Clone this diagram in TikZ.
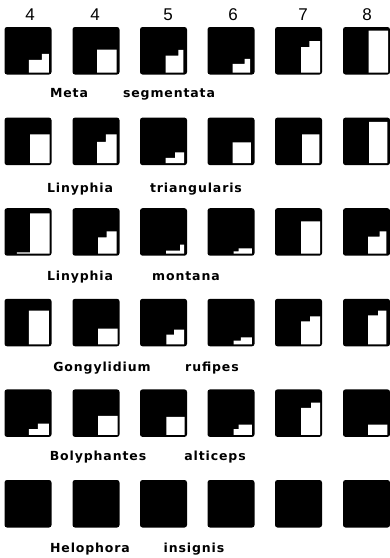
\documentclass[tikz,border=0pt]{standalone}
\usepackage{fontspec}
\newfontfamily\handfont[LetterSpace=7]{DejaVu Sans}
\newfontfamily\digitfont{Liberation Sans}
\tikzset{
  word/.style={anchor=base, inner sep=0pt, font=\handfont\bfseries\fontsize{12.5}{12.5}\selectfont},
  digit/.style={anchor=base, inner sep=0pt, font=\digitfont\fontsize{17}{17}\selectfont},
  box/.style={fill=black, rounded corners=2.5pt}
}
\newcommand\sqblk[2]{\fill[box] (#1,#2) rectangle ++(47,47.5);}
\newcommand\sqwht[7]{\fill[white,shift={(#1,#2)}] (#3,45.5) -- (#3,{47.5-#6}) -- (#4,{47.5-#6}) -- (#4,{47.5-#7}) -- (#5,{47.5-#7}) -- (#5,45.5) -- cycle;}
\begin{document}
\begin{tikzpicture}[x=1pt,y=-1pt]
\fill[white] (0,0) rectangle (389,558);
\useasboundingbox (0,0) rectangle (389,558);
% column numbers
\node[digit] (n1) at (30,20) {4};
\node[digit] (n2) at (95,20) {4};
\node[digit] (n3) at (168,20) {5};
\node[digit] (n4) at (233,20) {6};
\node[digit] (n5) at (303,20) {7};
\node[digit] (n6) at (367,20) {8};
% black squares
\foreach \yy in {27,117.6,208.2,298.8,389.4,480}{
  \foreach \xx in {4.5,72.5,140,207.5,275,343}{
    \sqblk{\xx}{\yy}
  }
}
% row 1
\sqwht{4.5}{27}{24.3}{37.3}{44.3}{14.7}{20.7}
\sqwht{72.5}{27}{24.7}{24.7}{44}{25}{25}
\sqwht{140}{27}{25.7}{38.3}{43.3}{19}{24.7}
\sqwht{207.5}{27}{25}{37}{42.7}{10.7}{15.7}
\sqwht{275}{27}{26}{34.3}{45}{27.3}{33.3}
\sqwht{343}{27}{25.7}{25.7}{45}{44}{44}
% row 2
\sqwht{4.5}{117.6}{25.7}{25.7}{45}{30.7}{30.7}
\sqwht{72.5}{117.6}{24.7}{33.3}{44}{23.3}{30.7}
\sqwht{140}{117.6}{25.7}{35}{44}{7.3}{12.7}
\sqwht{207.5}{117.6}{25}{25}{43.3}{22.7}{22.7}
\sqwht{275}{117.6}{27}{27}{44.3}{30.7}{30.7}
\sqwht{343}{117.6}{26}{26}{44.3}{43.3}{43.3}
% row 3
\sqwht{4.5}{208.2}{12.3}{25.7}{45}{3.3}{42.3}
\sqwht{72.5}{208.2}{25.7}{34}{44}{18.3}{24.3}
\sqwht{140}{208.2}{26}{40}{44}{5}{11}
\sqwht{207.5}{208.2}{26}{31}{44.3}{4.3}{7.3}
\sqwht{275}{208.2}{26}{26}{45}{34.3}{34.3}
\sqwht{343}{208.2}{25}{36.7}{43.3}{19}{24.3}
% row 4
\sqwht{4.5}{298.8}{24.3}{24.3}{44.3}{35.7}{35.7}
\sqwht{72.5}{298.8}{25.7}{25.7}{45}{17.7}{17.7}
\sqwht{140}{298.8}{26.3}{34}{44}{11.7}{16.7}
\sqwht{207.5}{298.8}{26}{33.3}{44.3}{5.7}{9}
\sqwht{275}{298.8}{26}{35}{45}{25}{30}
\sqwht{343}{298.8}{25}{35}{43.3}{31}{35.7}
% row 5
\sqwht{4.5}{389.4}{24.3}{33.3}{44.3}{7.7}{13.3}
\sqwht{72.5}{389.4}{25.7}{25.7}{45}{21}{21}
\sqwht{140}{389.4}{26.3}{26.3}{44.7}{20}{20}
\sqwht{207.5}{389.4}{26}{31}{44.3}{7.7}{12.3}
\sqwht{275}{389.4}{26}{36}{45}{29}{34.3}
\sqwht{343}{389.4}{25}{25}{44.3}{12.3}{12.3}
% labels
\node[word] (g1) at (69,97) {Meta};
\node[word] (s1) at (169,97) {segmentata};
\node[word] (g2) at (80,192) {Linyphia};
\node[word] (s2) at (196,192) {triangularis};
\node[word] (g3) at (80,280) {Linyphia};
\node[word] (s3) at (186,280) {montana};
\node[word] (g4) at (102,371) {Gongylidium};
\node[word] (s4) at (212,371) {rufipes};
\node[word] (g5) at (98,460) {Bolyphantes};
\node[word] (s5) at (215,460) {alticeps};
\node[word] (g6) at (90,552) {Helophora};
\node[word] (s6) at (194,552) {insignis};
\end{tikzpicture}
\end{document}
